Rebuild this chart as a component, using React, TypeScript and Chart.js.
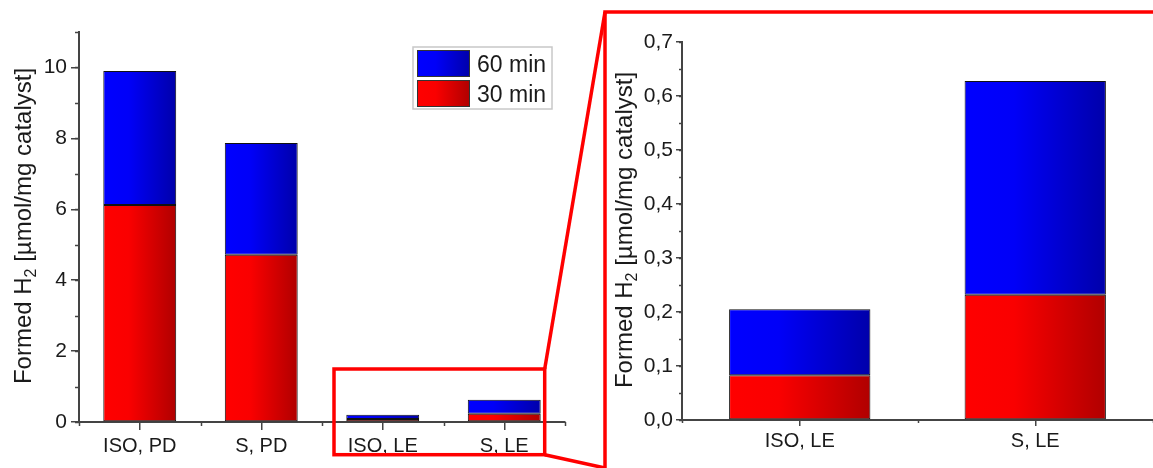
import React, { useEffect, useRef } from 'react';
import { Chart, registerables } from 'chart.js';

Chart.register(...registerables);

// ---- data ----
const categories = ['ISO, PD', 'S, PD', 'ISO, LE', 'S, LE'];
const formed30min = [6.12, 4.72, 0.083, 0.232];
const formed60minExtra = [3.78, 3.15, 0.122, 0.396]; // stacked on top of 30 min
const zoomIndices = [2, 3];
const seriesLabels = ['60 min', '30 min'];
const leftTickValues = [0, 2, 4, 6, 8, 10];
const rightTickValues = [0, 0.1, 0.2, 0.3, 0.4, 0.5, 0.6, 0.7];
const yTitleMain = 'Formed H';
const yTitleSub = '2';
const yTitleRest = ' [µmol/mg catalyst]';

const FONT = "'Liberation Sans', Arial, sans-serif";
const TEXT = '#1a1a1a';
const AXIS = '#444444';

function addStops(g: CanvasGradient, kind: 'red' | 'blue') {
  if (kind === 'red') {
    g.addColorStop(0, '#ff0000');
    g.addColorStop(0.35, '#fa0000');
    g.addColorStop(1, '#b00000');
  } else {
    g.addColorStop(0, '#0000ff');
    g.addColorStop(0.35, '#0000f8');
    g.addColorStop(1, '#0000aa');
  }
  return g;
}

function barGradient(kind: 'red' | 'blue', barPct: number) {
  return (c: any) => {
    const chart = c.chart;
    const xs = chart.scales && chart.scales.x;
    if (!chart.chartArea || !xs || c.dataIndex === undefined) return kind === 'red' ? '#ee0000' : '#0000ee';
    const n = chart.data.labels.length;
    const cw = (xs.right - xs.left) / n;
    const center = xs.getPixelForValue(c.dataIndex);
    const half = (cw * barPct) / 2;
    const g = chart.ctx.createLinearGradient(center - half, 0, center + half, 0);
    return addStops(g, kind);
  };
}

interface DecorOpts {
  yMinorStep: number;
  yMinorLen: number;
  xMinorLen: number;
  titleX: number;
  titleY: number;
  titleSize: number;
  legend?: boolean;
}

function makeDecor(o: DecorOpts) {
  return {
    id: 'decor',
    afterDraw(chart: any) {
      const ctx: CanvasRenderingContext2D = chart.ctx;
      const xs = chart.scales.x;
      const ys = chart.scales.y;
      ctx.save();
      ctx.strokeStyle = AXIS;
      ctx.lineWidth = 1.5;
      // y minor ticks
      const steps = Math.round((ys.max - ys.min) / o.yMinorStep);
      for (let i = 0; i <= steps; i++) {
        const v = ys.min + i * o.yMinorStep;
        const py = Math.round(ys.getPixelForValue(v)) + 0.5;
        ctx.beginPath();
        ctx.moveTo(ys.right - o.yMinorLen, py);
        ctx.lineTo(ys.right, py);
        ctx.stroke();
      }
      // x minor ticks at category boundaries
      const n = chart.data.labels.length;
      const cw = (xs.right - xs.left) / n;
      for (let i = 0; i <= n; i++) {
        const px = Math.round(xs.left + i * cw) + 0.5;
        ctx.beginPath();
        ctx.moveTo(px, xs.top);
        ctx.lineTo(px, xs.top + o.xMinorLen);
        ctx.stroke();
      }
      // y title with subscript
      ctx.fillStyle = TEXT;
      ctx.textBaseline = 'alphabetic';
      ctx.textAlign = 'left';
      const big = `${o.titleSize}px ${FONT}`;
      const small = `${Math.round(o.titleSize * 0.68)}px ${FONT}`;
      ctx.font = big;
      const w1 = ctx.measureText(yTitleMain).width;
      const w3 = ctx.measureText(yTitleRest).width;
      ctx.font = small;
      const w2 = ctx.measureText(yTitleSub).width;
      const total = w1 + w2 + w3;
      ctx.translate(o.titleX, o.titleY);
      ctx.rotate(-Math.PI / 2);
      let x = -total / 2;
      ctx.font = big;
      ctx.fillText(yTitleMain, x, 0);
      x += w1;
      ctx.font = small;
      ctx.fillText(yTitleSub, x, o.titleSize * 0.22);
      x += w2;
      ctx.font = big;
      ctx.fillText(yTitleRest, x, 0);
      ctx.restore();

      if (o.legend) {
        ctx.save();
        ctx.strokeStyle = '#c8c8c8';
        ctx.lineWidth = 1.5;
        ctx.strokeRect(413, 47, 139, 62);
        const sw = [
          { kind: 'blue' as const, y: 50, label: seriesLabels[0] },
          { kind: 'red' as const, y: 80, label: seriesLabels[1] },
        ];
        for (const s of sw) {
          const g = ctx.createLinearGradient(417, 0, 470, 0);
          addStops(g, s.kind);
          ctx.fillStyle = g;
          ctx.fillRect(417, s.y, 53, 27);
          ctx.strokeStyle = '#333';
          ctx.lineWidth = 1;
          ctx.strokeRect(417.5, s.y + 0.5, 52, 26);
          ctx.fillStyle = TEXT;
          ctx.font = `23px ${FONT}`;
          ctx.textBaseline = 'alphabetic';
          ctx.textAlign = 'left';
          ctx.fillText(s.label, 477, s.y + 22);
        }
        ctx.restore();
      }
    },
  };
}

interface PanelOpts {
  labels: string[];
  low: number[];
  high: number[];
  yMax: number;
  tickValues: number[];
  comma: boolean;
  yWidth: number;
  xHeight: number;
  padding: { top: number; right: number; left: number; bottom: number };
  yTickLen: number;
  xTickLen: number;
  yPad: number;
  xPad: number;
  decor: DecorOpts;
}

function buildConfig(p: PanelOpts): any {
  const barPct = 0.6;
  const common = {
    barPercentage: barPct,
    categoryPercentage: 1,
    borderWidth: 1,
    borderColor: '#111111',
    borderSkipped: false,
    stack: 's',
  };
  return {
    type: 'bar',
    data: {
      labels: p.labels,
      datasets: [
        { ...common, label: seriesLabels[1], data: p.low, backgroundColor: barGradient('red', barPct) },
        { ...common, label: seriesLabels[0], data: p.high, backgroundColor: barGradient('blue', barPct) },
      ],
    },
    options: {
      animation: false,
      responsive: false,
      layout: { padding: p.padding },
      plugins: { legend: { display: false }, tooltip: { enabled: false } },
      scales: {
        x: {
          stacked: true,
          offset: true,
          grid: {
            offset: false,
            drawOnChartArea: false,
            drawTicks: true,
            tickLength: p.xTickLen,
            color: AXIS,
            lineWidth: 1.5,
          },
          border: { display: true, color: AXIS, width: 2 },
          ticks: { font: { family: FONT, size: 20 }, color: TEXT, padding: p.xPad, maxRotation: 0 },
          afterFit: (s: any) => {
            s.height = p.xHeight;
          },
        },
        y: {
          stacked: true,
          min: 0,
          max: p.yMax,
          grid: {
            drawOnChartArea: false,
            drawTicks: true,
            tickLength: p.yTickLen,
            color: AXIS,
            lineWidth: 1.5,
          },
          border: { display: true, color: AXIS, width: 2 },
          afterBuildTicks: (s: any) => {
            s.ticks = p.tickValues.map((v) => ({ value: v }));
          },
          ticks: {
            font: { family: FONT, size: 21 },
            color: TEXT,
            padding: p.yPad,
            callback: (v: any) => (p.comma ? Number(v).toFixed(1).replace('.', ',') : String(v)),
          },
          afterFit: (s: any) => {
            s.width = p.yWidth;
          },
        },
      },
    },
    plugins: [makeDecor(p.decor)],
  };
}

export default function App() {
  const leftRef = useRef<HTMLCanvasElement>(null);
  const rightRef = useRef<HTMLCanvasElement>(null);

  useEffect(() => {
    document.body.style.margin = '0';
    const left = new Chart(
      leftRef.current!,
      buildConfig({
        labels: categories,
        low: formed30min,
        high: formed60minExtra,
        yMax: 11,
        tickValues: leftTickValues,
        comma: false,
        yWidth: 79,
        xHeight: 46,
        padding: { top: 32, right: 35, left: 0, bottom: 0 },
        yTickLen: 8,
        xTickLen: 8,
        yPad: 4,
        xPad: 4,
        decor: { yMinorStep: 1, yMinorLen: 4, xMinorLen: 4, titleX: 31, titleY: 226, titleSize: 24, legend: true },
      })
    );
    const right = new Chart(
      rightRef.current!,
      buildConfig({
        labels: zoomIndices.map((i) => categories[i]),
        low: zoomIndices.map((i) => formed30min[i]),
        high: zoomIndices.map((i) => formed60minExtra[i]),
        yMax: 0.7,
        tickValues: rightTickValues,
        comma: true,
        yWidth: 82,
        xHeight: 48,
        padding: { top: 42, right: 0, left: 0, bottom: 0 },
        yTickLen: 6,
        xTickLen: 6,
        yPad: 3,
        xPad: 3,
        decor: { yMinorStep: 0.05, yMinorLen: 3, xMinorLen: 3, titleX: 32, titleY: 230, titleSize: 24 },
      })
    );
    return () => {
      left.destroy();
      right.destroy();
    };
  }, []);

  return (
    <div style={{ position: 'absolute', left: 0, top: 0, width: 1153, height: 468, overflow: 'hidden', background: '#fff' }}>
      <canvas ref={leftRef} width={600} height={468} style={{ position: 'absolute', left: 0, top: 0 }} />
      <canvas ref={rightRef} width={553} height={468} style={{ position: 'absolute', left: 600, top: 0 }} />
      <svg width={1153} height={468} style={{ position: 'absolute', left: 0, top: 0, pointerEvents: 'none' }}>
        <g fill="none" stroke="#ff0000" strokeWidth={3.5}>
          <rect x={334} y={369} width={210.7} height={85.7} />
          <polyline points="1160,12 605,12 605,480" />
          <line x1={544.7} y1={369} x2={605} y2={12} />
          <line x1={544.7} y1={454.7} x2={605} y2={468} />
        </g>
      </svg>
    </div>
  );
}
